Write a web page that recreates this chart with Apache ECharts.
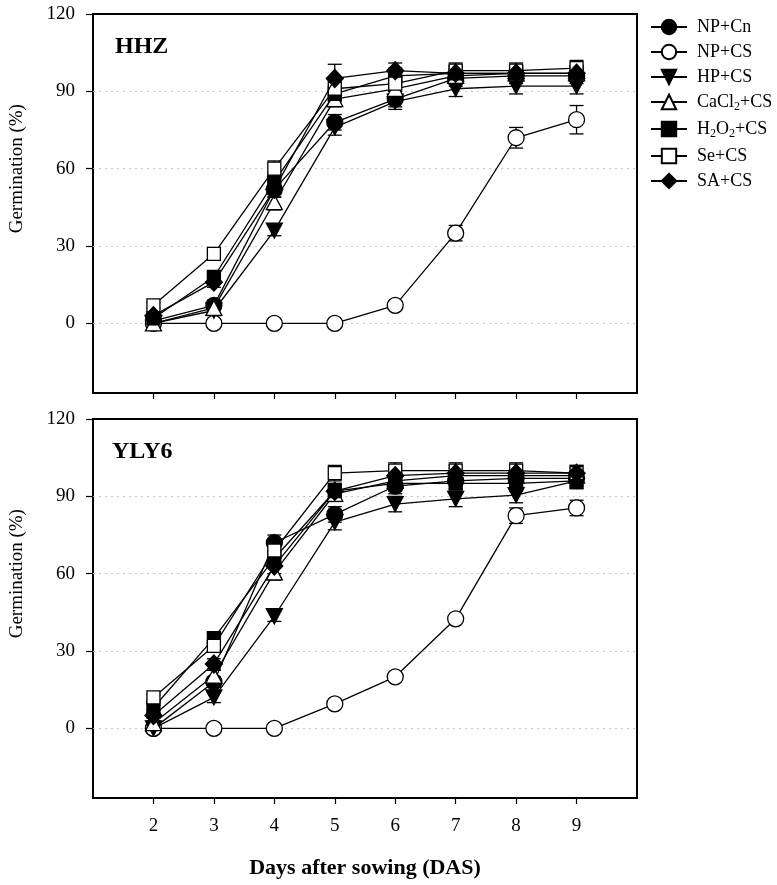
<!DOCTYPE html>
<html><head><meta charset="utf-8">
<script src="https://cdn.jsdelivr.net/npm/echarts@6/dist/echarts.min.js"></script>
<style>html,body{margin:0;padding:0;background:#fff}#c{width:777px;height:885px}</style>
</head><body><div id="c"></div>
<script>
// ---------- data ----------
const days = [2, 3, 4, 5, 6, 7, 8, 9];
const xTickValues = [2, 3, 4, 5, 6, 7, 8, 9];
const yTickValues = [0, 30, 60, 90, 120];
const gridValues = [0, 30, 60, 90];
const seriesNames = ['NP+Cn', 'NP+CS', 'HP+CS', 'CaCl2+CS', 'H2O2+CS', 'Se+CS', 'SA+CS'];
const panelLabels = ['HHZ', 'YLY6'];

// HHZ panel (mean germination %)
const hhzNPCn  = [1, 7, 52, 78, 87, 95, 96, 96];
const hhzNPCS  = [0, 0, 0, 0, 7, 35, 72, 79];
const hhzHPCS  = [0, 5, 36, 76, 86, 91, 92, 92];
const hhzCaCl2 = [0, 6, 47, 87, 91, 96, 97, 97];
const hhzH2O2  = [2, 18, 55, 89, 96, 97, 97, 97];
const hhzSe    = [7, 27, 60, 91, 93, 98, 98, 99];
const hhzSA    = [3, 16, 52, 95, 98, 97, 97, 97];
// HHZ error bars
const hhzErrNPCn  = [1, 2, 3, 3, 3, 3, 3, 3];
const hhzErrNPCS  = [0, 0, 0, 0, 1, 3, 4, 5.5];
const hhzErrHPCS  = [1, 2, 2, 3, 3, 3, 3, 3];
const hhzErrCaCl2 = [1, 2, 3, 3, 3, 3, 3, 3];
const hhzErrH2O2  = [1, 2, 3, 3, 3, 3, 3, 3];
const hhzErrSe    = [1, 2, 3, 3, 3, 3, 3, 3];
const hhzErrSA    = [1, 2, 3, 5.5, 3, 3, 3, 3];

// YLY6 panel
const ylyNPCn  = [0, 18, 72, 83, 94, 96, 97, 97];
const ylyNPCS  = [0, 0, 0, 9.5, 20, 42.5, 82.5, 85.5];
const ylyHPCS  = [0, 12, 43.5, 80, 87, 89, 90.5, 96];
const ylyCaCl2 = [2, 20.5, 60.5, 91, 96, 98, 98, 98];
const ylyH2O2  = [8, 35, 66, 92, 95, 95, 95, 96];
const ylySe    = [12, 32, 69, 99, 100, 100, 100, 99];
const ylySA    = [5, 25, 63, 92, 98, 99, 99, 99];
// YLY6 error bars
const ylyErrNPCn  = [1, 2, 3, 3, 3, 3, 3, 3];
const ylyErrNPCS  = [0, 0, 0, 1, 1, 1, 3, 3];
const ylyErrHPCS  = [1, 2, 2, 3, 3, 3, 3, 3];
const ylyErrCaCl2 = [1, 2, 3, 3, 3, 3, 3, 3];
const ylyErrH2O2  = [1, 2, 3, 3, 3, 3, 3, 3];
const ylyErrSe    = [1, 2, 3, 3, 3, 3, 3, 3];
const ylyErrSA    = [1, 2, 3, 3, 3, 3, 3, 3];

const panelValues = [
  [hhzNPCn, hhzNPCS, hhzHPCS, hhzCaCl2, hhzH2O2, hhzSe, hhzSA],
  [ylyNPCn, ylyNPCS, ylyHPCS, ylyCaCl2, ylyH2O2, ylySe, ylySA]
];
const panelErrors = [
  [hhzErrNPCn, hhzErrNPCS, hhzErrHPCS, hhzErrCaCl2, hhzErrH2O2, hhzErrSe, hhzErrSA],
  [ylyErrNPCn, ylyErrNPCS, ylyErrHPCS, ylyErrCaCl2, ylyErrH2O2, ylyErrSe, ylyErrSA]
];

// ---------- styles ----------
const FONT = '"Liberation Serif", "Times New Roman", serif';
const downTri = 'path://M0,0 L10,0 L5,9 Z';
const symbolDefs = [
  {symbol: 'circle', fill: '#000', size: 16},
  {symbol: 'circle', fill: '#fff', size: 16},
  {symbol: downTri, fill: '#000', size: [16, 15]},
  {symbol: 'triangle', fill: '#fff', size: [16, 15]},
  {symbol: 'rect', fill: '#000', size: 13},
  {symbol: 'rect', fill: '#fff', size: 13},
  {symbol: 'diamond', fill: '#000', size: [17, 18]}
];

const grids = [
  {left: 93, top: 14, width: 544, height: 379},
  {left: 93, top: 419, width: 544, height: 379}
];

const chart = echarts.init(document.getElementById('c'), null, {renderer: 'canvas'});

const xAxes = grids.map((g, i) => ({
  type: 'value', gridIndex: i, min: 1, max: 10,
  axisLine: {show: true, onZero: false, lineStyle: {color: '#000', width: 2}},
  axisTick: {show: true, inside: false, length: 6, customValues: xTickValues, lineStyle: {color: '#000', width: 1.2}},
  axisLabel: {show: i === 1, customValues: xTickValues, margin: 19, fontFamily: FONT, fontSize: 19, color: '#000'},
  splitLine: {show: false},
  name: i === 1 ? 'Days after sowing (DAS)' : '',
  nameLocation: 'middle', nameGap: 59,
  nameTextStyle: {fontFamily: FONT, fontSize: 22, fontWeight: 'bold', color: '#000'}
}));
const yAxes = grids.map((g, i) => ({
  type: 'value', gridIndex: i, min: -27, max: 120,
  axisLine: {show: true, onZero: false, lineStyle: {color: '#000', width: 2}},
  axisTick: {show: true, inside: false, length: 7, customValues: yTickValues, lineStyle: {color: '#000', width: 1.2}},
  axisLabel: {show: true, customValues: yTickValues, margin: 18, fontFamily: FONT, fontSize: 19, color: '#000'},
  splitLine: {show: false}
}));

const series = [];
for (let p = 0; p < 2; p++) {
  // dotted grid lines
  series.push({
    type: 'line', name: 'grid' + p, xAxisIndex: p, yAxisIndex: p, data: [], z: 1, silent: true,
    markLine: {
      silent: true, symbol: 'none', label: {show: false}, z: 1, animation: false,
      lineStyle: {type: [2, 4], color: '#c8c8c8', width: 1},
      emphasis: {disabled: true},
      data: gridValues.map(v => ({yAxis: v}))
    }
  });
  // error bars
  const errData = [];
  panelValues[p].forEach((vals, s) => {
    vals.forEach((v, j) => errData.push([days[j], v, panelErrors[p][s][j]]));
  });
  series.push({
    type: 'custom', name: 'err' + p, xAxisIndex: p, yAxisIndex: p, z: 2, silent: true,
    encode: {x: 0, y: 1},
    data: errData,
    renderItem: function (params, api) {
      const x = api.value(0), y = api.value(1), e = api.value(2);
      if (!e) return null;
      const t = api.coord([x, y + e]), b = api.coord([x, y - e]);
      const hw = 7;
      const st = {stroke: '#000', lineWidth: 1.3};
      return {type: 'group', children: [
        {type: 'line', shape: {x1: t[0], y1: t[1], x2: b[0], y2: b[1]}, style: st},
        {type: 'line', shape: {x1: t[0] - hw, y1: t[1], x2: t[0] + hw, y2: t[1]}, style: st},
        {type: 'line', shape: {x1: b[0] - hw, y1: b[1], x2: b[0] + hw, y2: b[1]}, style: st}
      ]};
    }
  });
  panelValues[p].forEach((vals, s) => {
    const d = symbolDefs[s];
    series.push({
      type: 'line', name: seriesNames[s], xAxisIndex: p, yAxisIndex: p, z: 3 + s,
      data: vals.map((v, j) => [days[j], v]),
      symbol: d.symbol, symbolSize: d.size, showAllSymbol: true,
      itemStyle: {color: d.fill, borderColor: '#000', borderWidth: 1.3, opacity: 1},
      lineStyle: {color: '#000', width: 1.3},
      emphasis: {disabled: true}, animation: false
    });
  });
}

chart.setOption({
  animation: false,
  backgroundColor: '#fff',
  grid: grids.map(g => Object.assign({show: true, borderColor: '#000', borderWidth: 2, backgroundColor: 'transparent', containLabel: false}, g)),
  xAxis: xAxes,
  yAxis: yAxes,
  legend: {
    data: seriesNames, orient: 'vertical', left: 645, top: 13,
    itemWidth: 36, itemHeight: 18, itemGap: 7,
    textStyle: {
      fontFamily: FONT, fontSize: 18, color: '#000', padding: [0, 0, 0, 5],
      rich: {s: {fontFamily: FONT, fontSize: 12, color: '#000', padding: [10, 0, 0, 0]}}
    },
    formatter: function (name) {
      if (name === 'CaCl2+CS') return 'CaCl{s|2}+CS';
      if (name === 'H2O2+CS') return 'H{s|2}O{s|2}+CS';
      return name;
    },
    selectedMode: false
  },
  series: series
});

// titles and panel labels placed from axis coordinates
const graphics = [];
for (let p = 0; p < 2; p++) {
  const yc = chart.convertToPixel({yAxisIndex: p}, 60);
  const yTop = chart.convertToPixel({yAxisIndex: p}, 120);
  graphics.push({
    type: 'text', x: 17, y: yc, rotation: Math.PI / 2,
    style: {text: 'Germination (%)', font: '19px ' + FONT, fill: '#000', align: 'center', verticalAlign: 'middle'}
  });
  graphics.push({
    type: 'text', x: grids[p].left + (p === 0 ? 22 : 19), y: yTop + 33,
    style: {text: panelLabels[p], font: 'bold 24px ' + FONT, fill: '#000', align: 'left', verticalAlign: 'middle'}
  });
}
chart.setOption({graphic: graphics});
</script>
</body></html>
